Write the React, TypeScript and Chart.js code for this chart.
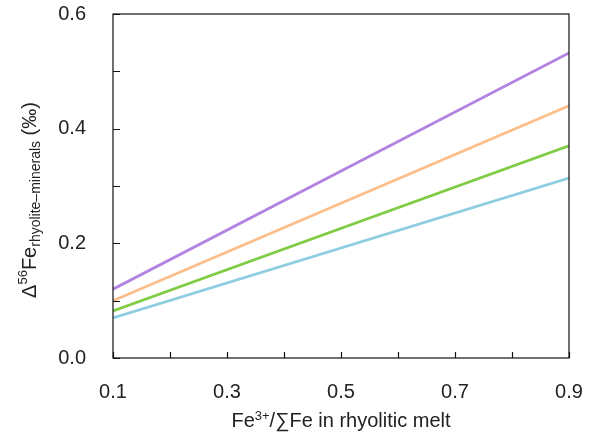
import React, { useEffect, useRef } from "react";
import { Chart, registerables } from "chart.js";

Chart.register(...registerables);

const xEnds = [0.1, 0.9];
const purpleVals = [0.12, 0.532];
const orangeVals = [0.1, 0.44];
const greenVals = [0.082, 0.37];
const blueVals = [0.07, 0.314];
const xTicks = [0.1, 0.2, 0.3, 0.4, 0.5, 0.6, 0.7, 0.8, 0.9];
const yTicks = [0, 0.1, 0.2, 0.3, 0.4, 0.5, 0.6];

const FONT = '"Liberation Sans", Arial, sans-serif';

const frame = {
  id: "frame",
  afterDraw(chart: any) {
    const { ctx, chartArea, scales } = chart;
    const { left, right, top, bottom } = chartArea;
    ctx.save();
    ctx.strokeStyle = "#111";
    ctx.lineWidth = 1.2;
    ctx.strokeRect(left, top, right - left, bottom - top);
    ctx.beginPath();
    for (const v of xTicks) {
      const px = Math.round(scales.x.getPixelForValue(v)) + 0.5;
      ctx.moveTo(px, bottom);
      ctx.lineTo(px, bottom - 6);
    }
    for (const v of yTicks) {
      const py = Math.round(scales.y.getPixelForValue(v)) + 0.5;
      ctx.moveTo(left, py);
      ctx.lineTo(left + 7, py);
    }
    ctx.stroke();

    // x title
    ctx.fillStyle = "#222";
    ctx.textBaseline = "alphabetic";
    ctx.textAlign = "left";
    const big = `20px ${FONT}`;
    const small = `13px ${FONT}`;
    const parts: [string, string, number][] = [
      ["Fe", big, 0],
      ["3+", small, -7],
      ["/\u2211Fe in rhyolitic melt", big, 0],
    ];
    let w = 0;
    for (const [t, f] of parts) {
      ctx.font = f;
      w += ctx.measureText(t).width;
    }
    let cx = (left + right) / 2 - w / 2;
    const by = 427;
    for (const [t, f, dy] of parts) {
      ctx.font = f;
      ctx.fillText(t, cx, by + dy);
      cx += ctx.measureText(t).width;
    }

    // y title
    const yParts: [string, string, number][] = [
      ["\u0394", `20px ${FONT}`, 0],
      ["56", `13px ${FONT}`, -9],
      ["Fe", `20px ${FONT}`, 0],
      ["rhyolite\u2013minerals", `14px ${FONT}`, 4],
      [" (\u2030)", `20px ${FONT}`, 0],
    ];
    let yw = 0;
    for (const [t, f] of yParts) {
      ctx.font = f;
      yw += ctx.measureText(t).width;
    }
    ctx.translate(36, 200);
    ctx.rotate(-Math.PI / 2);
    let tx = -yw / 2;
    for (const [t, f, dy] of yParts) {
      ctx.font = f;
      ctx.fillText(t, tx, dy);
      tx += ctx.measureText(t).width;
    }
    ctx.restore();
  },
};

export default function App() {
  const ref = useRef<HTMLCanvasElement | null>(null);
  useEffect(() => {
    document.body.style.margin = "0";
    const mk = (vals: number[], color: string) => ({
      data: xEnds.map((x, i) => ({ x, y: vals[i] })),
      borderColor: color,
      borderWidth: 2.8,
      pointRadius: 0,
      fill: false,
      tension: 0,
    });
    const chart = new Chart(ref.current as HTMLCanvasElement, {
      type: "line",
      data: {
        datasets: [
          mk(blueVals, "#8fcde0"),
          mk(greenVals, "#80cc44"),
          mk(orangeVals, "#fcbf8c"),
          mk(purpleVals, "#b483e2"),
        ],
      },
      options: {
        animation: false,
        responsive: false,
        layout: { padding: { top: 14, right: 26, left: 0, bottom: 0 } },
        plugins: { legend: { display: false }, tooltip: { enabled: false } },
        scales: {
          x: {
            type: "linear",
            min: 0.1,
            max: 0.9,
            grid: { display: false, drawTicks: false },
            border: { display: false },
            afterFit: (s: any) => {
              s.height = 80;
              s.paddingLeft = 0;
              s.paddingRight = 0;
            },
            ticks: {
              stepSize: 0.1,
              padding: 22,
              color: "#222",
              font: { family: FONT, size: 20 },
              maxRotation: 0,
              autoSkip: false,
              callback: (v: any, i: number) => (i % 2 === 0 ? Number(v).toFixed(1) : ""),
            },
          },
          y: {
            type: "linear",
            min: 0,
            max: 0.6,
            grid: { display: false, drawTicks: false },
            border: { display: false },
            afterFit: (s: any) => {
              s.width = 113;
              s.paddingTop = 0;
              s.paddingBottom = 0;
            },
            ticks: {
              stepSize: 0.1,
              padding: 27,
              color: "#222",
              font: { family: FONT, size: 20 },
              autoSkip: false,
              callback: (v: any, i: number) => (i % 2 === 0 ? Number(v).toFixed(1) : ""),
            },
          },
        },
      },
      plugins: [frame],
    });
    return () => chart.destroy();
  }, []);
  return (
    <div style={{ position: "absolute", left: 0, top: 0, width: 595, height: 438, background: "#fff" }}>
      <canvas ref={ref} width={595} height={438} />
    </div>
  );
}
